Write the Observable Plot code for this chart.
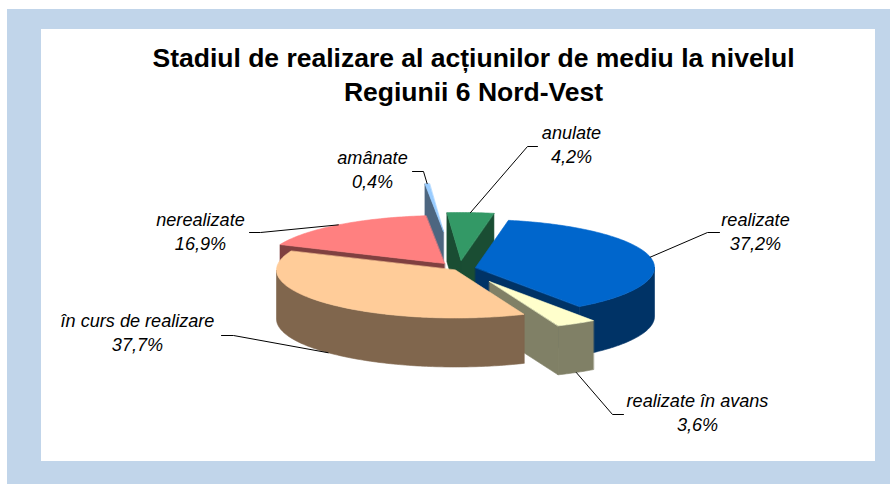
<!DOCTYPE html>
<html lang="ro">
<head>
<meta charset="utf-8">
<title>Stadiul de realizare al acțiunilor de mediu</title>
<script src="https://cdn.jsdelivr.net/npm/d3@7"></script>
<script src="https://cdn.jsdelivr.net/npm/@observablehq/plot@0.6"></script>
<style>
  html, body { margin: 0; padding: 0; background: #fff; width: 890px; height: 484px; overflow: hidden; }
  #outer { position: absolute; left: 7px; top: 9px; width: 883px; height: 475px; background: #C1D5EA; }
  #inner { position: absolute; left: 41px; top: 29px; width: 834px; height: 432px; background: #fff; }
  #chart { position: absolute; left: 0; top: 0; }
  #chart svg { display: block; background: transparent; }
</style>
</head>
<body>
<div id="outer"></div>
<div id="inner"></div>
<div id="chart"></div>
<script>
// ---- data
const categories = ["realizate", "realizate în avans", "în curs de realizare", "nerealizate", "amânate", "anulate"];
const shares = [37.2, 3.6, 37.7, 16.9, 0.4, 4.2];
const shareLabels = ["37,2%", "3,6%", "37,7%", "16,9%", "0,4%", "4,2%"];
const titleLines = ["Stadiul de realizare al acțiunilor de mediu la nivelul", "Regiunii 6 Nord-Vest"];

// ---- styling and layout of the 3-D exploded pie (separate from the data)
const topColors = ["#0066CC", "#FFFFCC", "#FFCC99", "#FF8080", "#99CCFF", "#339966"];
const sideColors = ["#003366", "#808066", "#80664D", "#804040", "#4D6680", "#1A4D33"];
const apexX = [475, 489, 455, 444, 443, 460.5];
const apexY = [267, 281, 269.5, 263, 231, 260];
const labelX = [755, 697, 137, 200, 372, 571];
const labelY = [220, 401, 321, 220, 158, 133];
const elbowNear = [[707, 232], [612, 414], [233, 335], [260, 232], [423, 171], [527, 146]];
const elbowFar = [[719, 232], [623, 414], [221, 335], [249, 232], [412, 171], [537, 146]];
const drawOrder = [4, 5, 3, 0, 1, 2];
const firstAngle = 10.6, rx = 179, ry = 48, depth = 49;

const rad = (d) => d * Math.PI / 180;
const total = d3.sum(shares);
let cumulative = 0;
const slices = shares.map((s, i) => {
  const a0 = firstAngle + cumulative / total * 360;
  cumulative += s;
  const a1 = firstAngle + cumulative / total * 360;
  const rim = (a) => ({x: apexX[i] + rx * Math.sin(rad(a)), y: apexY[i] - ry * Math.cos(rad(a))});
  return {i, a0, a1, rim, apex: {x: apexX[i], y: apexY[i]}};
});
const drop = (p) => ({x: p.x, y: p.y + depth});
const arc = (s, from, to) => {
  const n = Math.max(2, Math.ceil(Math.abs(to - from)));
  return d3.range(n + 1).map((k) => s.rim(from + (to - from) * k / n));
};
const wall = (upper) => [...upper, ...upper.slice().reverse().map(drop)];
const face = (points, color) =>
  Plot.line(points, {x: "x", y: "y", fill: color, stroke: color, strokeWidth: 0.6, curve: "linear-closed"});

const marks = [];
for (const k of drawOrder) {
  const s = slices[k];
  const side = sideColors[k];
  // the two cut faces, when they turn towards the viewer
  if (-Math.cos(rad(s.a0 - 90)) > 0) marks.push(face(wall([s.apex, s.rim(s.a0)]), side));
  if (-Math.cos(rad(s.a1 + 90)) > 0) marks.push(face(wall([s.apex, s.rim(s.a1)]), side));
  // the outer wall on the front half of the ellipse
  const from = Math.max(s.a0, 90), to = Math.min(s.a1, 270);
  if (to > from) marks.push(face(wall(arc(s, from, to)), side));
  // the top of the slice
  marks.push(face([s.apex, ...arc(s, s.a0, s.a1)], topColors[k]));
}

// leader lines start where the slice's middle angle meets the rim
const frontFacing = (a) => -Math.cos(rad(a)) > 0.5;
const leaders = slices.map((s) => {
  const mid = (s.a0 + s.a1) / 2;
  const p = s.rim(mid);
  const end = frontFacing(mid) ? drop(p) : p;
  return [end, {x: elbowNear[s.i][0], y: elbowNear[s.i][1]}, {x: elbowFar[s.i][0], y: elbowFar[s.i][1]}];
});
for (const l of leaders) marks.push(Plot.line(l, {x: "x", y: "y", stroke: "#000", strokeWidth: 1}));

const font = "'Liberation Sans', Arial, sans-serif";
const labels = categories.map((c, i) => ({text: c, share: shareLabels[i], x: labelX[i], y: labelY[i]}));
marks.push(Plot.text(labels, {x: "x", y: "y", text: "text", fontSize: 18.1, fontStyle: "italic", fontFamily: font, fill: "#000"}));
marks.push(Plot.text(labels, {x: "x", y: (d) => d.y + 24, text: "share", fontSize: 18.1, fontStyle: "italic", fontFamily: font, fill: "#000"}));
marks.push(Plot.text(titleLines, {x: () => 473, y: (d, i) => 58 + i * 34, text: (d) => d, fontSize: 26.5, fontWeight: "bold", fontFamily: font, fill: "#000"}));

const plot = Plot.plot({
  width: 890, height: 484,
  marginTop: 0, marginRight: 0, marginBottom: 0, marginLeft: 0,
  x: {domain: [0, 890], range: [0, 890], axis: null},
  y: {domain: [0, 484], range: [0, 484], axis: null},
  marks
});
document.getElementById("chart").appendChild(plot);
</script>
</body>
</html>
